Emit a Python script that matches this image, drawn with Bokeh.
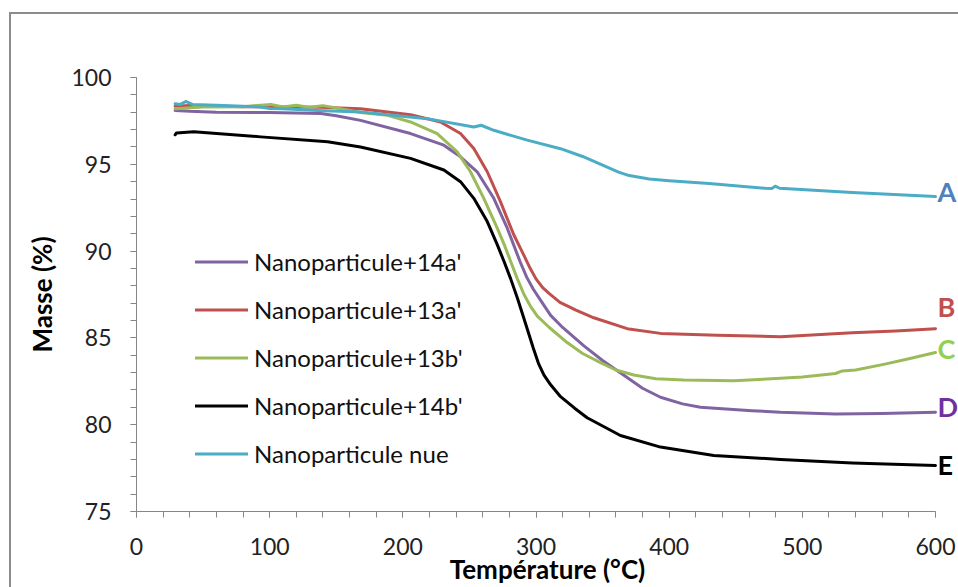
from bokeh.plotting import figure
from bokeh.models import Range1d, FixedTicker, Legend, LegendItem, Label
from bokeh.embed import file_html
from bokeh.resources import INLINE

# ---- data ----
t_14a = [29, 40, 60, 100, 138.5, 150, 168.2, 205.8, 230.8, 243.3, 255.8, 268.3, 278, 283, 288, 293, 298, 304, 311, 320, 336, 350, 366, 380, 393.5, 410, 423.5, 462, 483.6, 524.7, 560, 600]
m_14a = [98.1, 98.05, 98.0, 97.98, 97.92, 97.8, 97.53, 96.77, 96.1, 95.43, 94.57, 93.04, 91.4, 90.4, 89.4, 88.5, 87.8, 87.1, 86.3, 85.6, 84.54, 83.7, 82.85, 82.1, 81.58, 81.2, 81.0, 80.81, 80.72, 80.62, 80.65, 80.72]

t_13a = [29, 40, 80, 138, 168.2, 205.8, 228.3, 243.3, 253.3, 263.4, 273.3, 283.3, 290, 295, 300, 305, 310, 318, 330, 343.4, 368.5, 393.5, 436, 483.6, 537.5, 570, 600]
m_13a = [98.34, 98.38, 98.32, 98.28, 98.2, 97.86, 97.44, 96.77, 95.91, 94.57, 92.85, 90.94, 89.9, 89.1, 88.4, 87.9, 87.55, 87.05, 86.6, 86.16, 85.53, 85.26, 85.15, 85.07, 85.3, 85.4, 85.53]

t_13b = [29, 50, 80, 100.9, 110, 120, 130, 140, 150, 168.2, 188.6, 205.8, 225.8, 240.8, 250.8, 260.8, 270.9, 276, 281, 286, 291, 296, 301, 310, 323.4, 335, 348.4, 360, 373.4, 390, 411, 448.5, 483.6, 500, 525, 530, 540, 562, 580, 600]
m_13b = [98.2, 98.3, 98.32, 98.45, 98.3, 98.4, 98.28, 98.38, 98.25, 97.98, 97.82, 97.44, 96.77, 95.72, 94.57, 93.04, 91.32, 90.4, 89.4, 88.4, 87.5, 86.8, 86.25, 85.6, 84.73, 84.1, 83.58, 83.15, 82.86, 82.65, 82.57, 82.53, 82.67, 82.75, 82.95, 83.1, 83.15, 83.49, 83.8, 84.16]

t_14b = [29, 30, 43, 93.3, 143.5, 168.2, 205.8, 230.8, 243.3, 253.3, 263.4, 270.9, 276, 281, 286, 291, 298, 302, 306, 311, 318, 329, 338.4, 363.4, 393.5, 433.5, 483.6, 537.5, 600]
m_14b = [96.7, 96.81, 96.87, 96.58, 96.3, 96.0, 95.34, 94.67, 94.0, 93.04, 91.7, 90.37, 89.4, 88.4, 87.3, 86.1, 84.4, 83.5, 82.85, 82.3, 81.65, 80.95, 80.4, 79.38, 78.71, 78.23, 78.0, 77.79, 77.65]

t_nue = [29, 33, 36.9, 42, 60, 93, 100, 110, 136, 168.2, 218.3, 253.3, 258.8, 268.3, 293.4, 318.4, 335, 350, 362, 370, 385, 400, 430, 472, 477, 479.6, 483, 537.5, 600]
m_nue = [98.49, 98.45, 98.62, 98.45, 98.4, 98.3, 98.22, 98.2, 98.1, 98.01, 97.63, 97.15, 97.25, 96.96, 96.39, 95.9, 95.45, 94.95, 94.55, 94.35, 94.15, 94.05, 93.9, 93.62, 93.6, 93.74, 93.62, 93.37, 93.14]

series_names = ["Nanoparticule+14a'", "Nanoparticule+13a'", "Nanoparticule+13b'", "Nanoparticule+14b'", "Nanoparticule nue"]
series_colors = ["#8064A2", "#C0504D", "#9BBB59", "#000000", "#4BACC6"]
end_letters = ["D", "B", "C", "E", "A"]
letter_colors = ["#7030A0", "#C0504D", "#92D050", "#000000", "#4F81BD"]
letter_y = [81.05, 86.78, 84.4, 77.7, 93.43]

x_ticks = [0, 100, 200, 300, 400, 500, 600]
y_ticks = [75, 80, 85, 90, 95, 100]

FONT = "Lato"

# frame: x=0 at page px 136, x=600 at 935; frame extends to the page edge (958) to leave room for the end letters
x_end = 600 * (958 - 136) / (935 - 136)

p = figure(width=958, height=587, output_backend="svg", toolbar_location=None,
           x_range=Range1d(0, x_end), y_range=Range1d(75, 100),
           min_border_left=136, min_border_right=0, min_border_top=77, min_border_bottom=74)
p.outline_line_color = None
p.grid.visible = False
p.background_fill_color = "white"
p.border_fill_color = "white"

p.xaxis.ticker = FixedTicker(ticks=x_ticks, minor_ticks=list(range(0, 601, 20)))
p.yaxis.ticker = FixedTicker(ticks=y_ticks, minor_ticks=list(range(75, 101, 1)))
p.xaxis.bounds = (0, 600)
for ax in (p.xaxis, p.yaxis):
    ax.axis_line_color = "#868686"
    ax.major_tick_line_color = "#868686"
    ax.minor_tick_line_color = "#868686"
    ax.major_tick_in = 0
    ax.minor_tick_in = 0
    ax.major_tick_out = 6
    ax.minor_tick_out = 6
    ax.major_label_text_font = FONT
    ax.major_label_text_font_size = "23px"
    ax.major_label_text_color = "#222222"
    ax.axis_label_text_font = FONT
    ax.axis_label_text_font_style = "bold"
    ax.axis_label_text_font_size = "26px"
    ax.axis_label_text_color = "#000000"
p.xaxis.major_label_standoff = 20
p.yaxis.major_label_standoff = 19
p.xaxis.axis_label = "Température (°C)"
p.yaxis.axis_label = "Masse (%)"
p.xaxis.axis_label_standoff = -5
p.yaxis.axis_label_standoff = 10

data = [(t_14a, m_14a), (t_13a, m_13a), (t_13b, m_13b), (t_14b, m_14b), (t_nue, m_nue)]
renderers = []
for (t, m), c in zip(data, series_colors):
    r = p.line(t, m, line_color=c, line_width=3, line_join="round", line_cap="round")
    renderers.append(r)

legend = Legend(items=[LegendItem(label=n, renderers=[r]) for n, r in zip(series_names, renderers)],
                location=(59, 43), orientation="vertical",
                glyph_width=53, glyph_height=29, label_height=29, spacing=19,
                label_standoff=6, padding=0, margin=0,
                border_line_color=None, background_fill_alpha=0,
                label_text_font=FONT, label_text_font_size="24px", label_text_color="#111111")
p.add_layout(legend)

for letter, col, ly in zip(end_letters, letter_colors, letter_y):
    p.add_layout(Label(x=600, y=ly, text=letter, x_offset=2, text_color=col,
                       text_font=FONT, text_font_style="bold", text_font_size="27px",
                       text_baseline="middle", text_align="left"))

html = file_html(p, INLINE)
border = ('<div style="position:fixed;left:9px;top:12px;right:-20px;bottom:-20px;'
          'border-left:2px solid #8c8c8c;border-top:2px solid #8c8c8c;pointer-events:none;"></div>')
html = html.replace("</body>", border + "</body>")
open("out.html", "w").write(html)
